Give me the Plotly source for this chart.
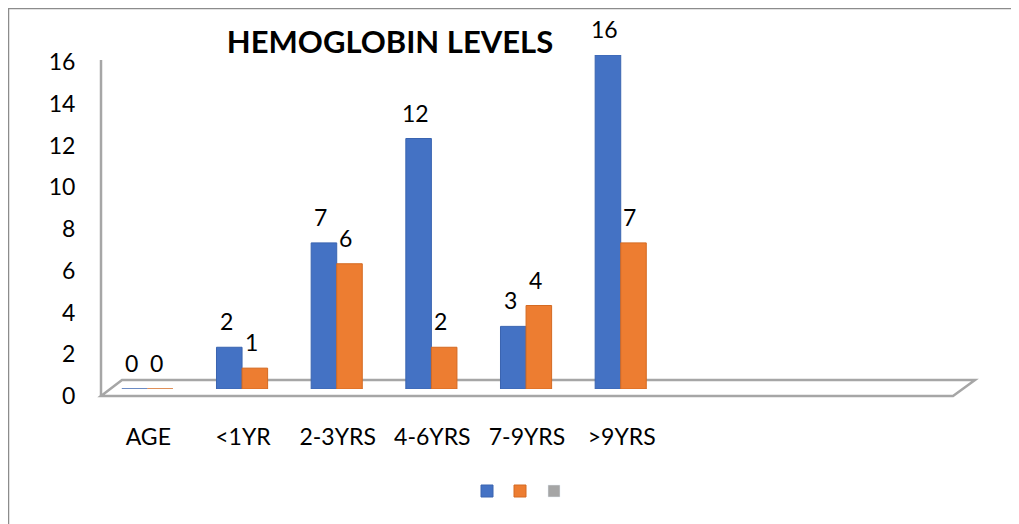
import plotly.graph_objects as go

categories = ["AGE", "<1YR", "2-3YRS", "4-6YRS", "7-9YRS", ">9YRS"]
series1 = [0, 2, 7, 12, 3, 16]
series2 = [0, 1, 6, 2, 4, 7]
series3 = [None, None, None, None, None, None]
y_ticks = [0, 2, 4, 6, 8, 10, 12, 14, 16]

W, H = 1019, 524
OFF = 8  # page body margin offset
# target positions in screen (reference) pixels
X0, X1, Y0, Y1 = 101, 953, 389, 55
L = X0 - OFF
T = Y1 - OFF
R = W - (X1 - OFF)
B = H - (Y0 - OFF)
PW, PH = W - L - R, H - T - B

def px(x):
    return (x - OFF - L) / PW

def py(y):
    return (H - B - (y - OFF)) / PH

def cx(x):
    return (x - OFF) / W

def cy(y):
    return 1 - (y - OFF) / H

BLUE, ORANGE, GRAY = "#4472C4", "#ED7D31", "#A5A5A5"
FONT = "Lato"
FS = 23

fig = go.Figure()
fig.add_trace(go.Bar(x=categories, y=series1, name=" ", marker_color=BLUE,
                     marker_line=dict(color="#3A64B0", width=1),
                     offset=-0.28, width=0.27, legend="legend"))
fig.add_trace(go.Bar(x=categories, y=series2, name=" ", marker_color=ORANGE,
                     marker_line=dict(color="#D46A22", width=1),
                     offset=-0.01, width=0.27, legend="legend2"))
fig.add_trace(go.Bar(x=categories, y=series3, name=" ", marker_color=GRAY,
                     offset=0.26, width=0.27, legend="legend3"))

# data labels
for vals, xs in ((series1, -17), (series2, 8)):
    for c, v in zip(categories, vals):
        fig.add_annotation(x=c, y=v, text=str(v), showarrow=False, xshift=xs,
                           yshift=10, yanchor="bottom",
                           font=dict(family=FONT, size=FS, color="#000000"))

shapes = []
# outer border
shapes.append(dict(type="rect", xref="paper", yref="paper",
                   x0=px(8.5), x1=px(1040), y0=py(560), y1=py(8.5),
                   line=dict(color="#8C8C8C", width=1.5), fillcolor="rgba(0,0,0,0)",
                   layer="below"))
# floor
floor_path = "M {},{} L {},{} L {},{} L {},{} Z".format(
    px(101), py(396), px(953), py(396), px(975), py(380), px(122), py(380))
shapes.append(dict(type="path", xref="paper", yref="paper", path=floor_path,
                   line=dict(color="#A6A6A6", width=2.5), fillcolor="white", layer="below"))
# vertical axis line
shapes.append(dict(type="line", xref="paper", yref="paper",
                   x0=px(101), x1=px(101), y0=py(396), y1=py(60),
                   line=dict(color="#A6A6A6", width=2.5), layer="below"))

def leg(xc):
    return dict(orientation="h", xref="container", yref="container",
                x=cx(xc), xanchor="left", y=cy(491), yanchor="middle",
                font=dict(size=12), itemclick=False, itemdoubleclick=False,
                bgcolor="rgba(0,0,0,0)")

fig.update_layout(
    width=W, height=H,
    margin=dict(l=L, r=R, t=T, b=B, autoexpand=False),
    paper_bgcolor="white", plot_bgcolor="rgba(0,0,0,0)",
    barmode="overlay",
    title=dict(text="<b>HEMOGLOBIN LEVELS</b>", xref="container", yref="container",
               x=cx(390), xanchor="center", y=cy(42), yanchor="middle",
               font=dict(family=FONT, size=31, color="#000000")),
    showlegend=True,
    legend=leg(467),
    legend2=leg(500),
    legend3=leg(534),
    shapes=shapes,
    xaxis=dict(type="category", range=[-0.5, 8.5], showgrid=False, zeroline=False,
               showline=False, ticks="outside", ticklen=27,
               tickcolor="rgba(0,0,0,0)",
               tickfont=dict(family=FONT, size=FS, color="#000000")),
    yaxis=dict(range=[0, 16], tickvals=y_ticks, showgrid=False, zeroline=False,
               showline=False, ticks="outside", ticklen=20,
               tickcolor="rgba(0,0,0,0)", ticklabelshift=7,
               tickfont=dict(family=FONT, size=FS, color="#000000")),
)

fig.write_html("out.html")
